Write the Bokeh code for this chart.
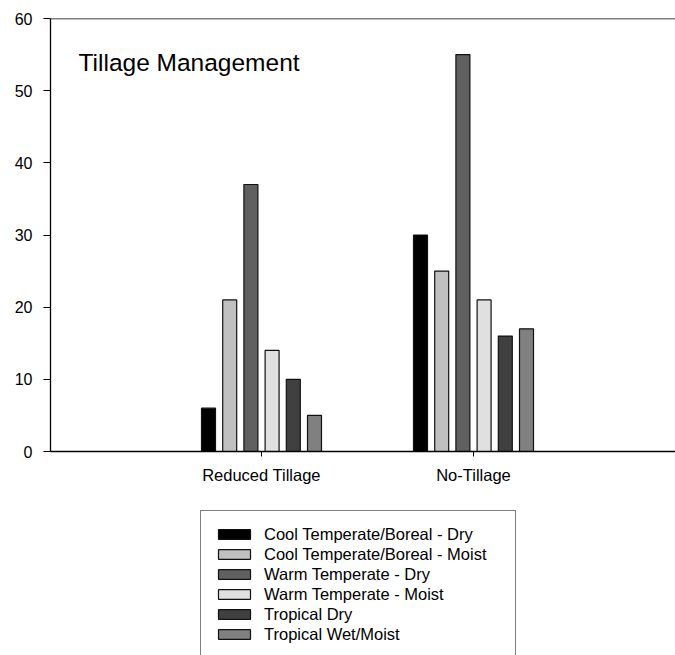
import numpy as np
from bokeh.plotting import figure
from bokeh.layouts import column
from bokeh.models import (ColumnDataSource, Range1d, FixedTicker, Legend, LegendItem,
                          Label, Span)
from bokeh.embed import file_html
from bokeh.resources import INLINE

# ---- data ----
categories = ["Reduced Tillage", "No-Tillage"]
series_names = [
    "Cool Temperate/Boreal - Dry",
    "Cool Temperate/Boreal - Moist",
    "Warm Temperate - Dry",
    "Warm Temperate - Moist",
    "Tropical Dry",
    "Tropical Wet/Moist",
]
cool_dry = [6, 30]
cool_moist = [21, 25]
warm_dry = [37, 55]
warm_moist = [14, 21]
tropical_dry = [10, 16]
tropical_wet = [5, 17]
series_values = [cool_dry, cool_moist, warm_dry, warm_moist, tropical_dry, tropical_wet]
colors = ["#000000", "#c0c0c0", "#606060", "#e0e0e0", "#404040", "#808080"]
y_ticks = [0, 10, 20, 30, 40, 50, 60]
title_text = "Tillage Management"

FONT = "Liberation Sans"
W = 675
H1 = 490
H2 = 165

px_per_unit = 212.0
frame_w = W - 50
x_start = 1 - 211 / px_per_unit
x_end = x_start + frame_w / px_per_unit

p = figure(width=W, height=H1, output_backend="svg", toolbar_location=None,
           x_range=Range1d(x_start, x_end), y_range=Range1d(0, 60),
           min_border_left=50, min_border_right=0, min_border_top=18,
           min_border_bottom=H1 - 18 - 433, background_fill_color="white",
           border_fill_color="white", outline_line_color=None)
p.grid.visible = False

# ---- legend panel figure ----
q = figure(width=W, height=H2, output_backend="svg", toolbar_location=None,
           x_range=Range1d(-100, -99), y_range=Range1d(100, 101),
           x_axis_location=None, y_axis_location=None,
           min_border=0, outline_line_color=None,
           background_fill_color="white", border_fill_color="white")
q.grid.visible = False

cat_pos = np.arange(1, len(categories) + 1)
n = len(series_names)
pitch = 0.1
bar_w = 0.066
items = []
for k, (name, vals, col) in enumerate(zip(series_names, series_values, colors)):
    xs = cat_pos + pitch * (k - (n - 1) / 2)
    src = ColumnDataSource(dict(x=xs, top=vals))
    p.vbar(x="x", top="top", width=bar_w, bottom=0, source=src,
           fill_color=col, line_color="#111111", line_width=1.2)
    # same data in the legend figure, outside its visible range (for legend swatches)
    r = q.vbar(x="x", top="top", width=bar_w, bottom=0, source=src,
               fill_color=col, line_color="#111111", line_width=1.2)
    items.append(LegendItem(label=name, renderers=[r]))

# axes
p.yaxis.ticker = FixedTicker(ticks=y_ticks)
p.yaxis.major_tick_out = 7
p.yaxis.major_tick_in = 0
p.yaxis.minor_tick_line_color = None
p.yaxis.major_label_standoff = 11
p.yaxis.major_label_text_font = FONT
p.yaxis.major_label_text_font_size = "16px"
p.yaxis.major_label_text_color = "black"
p.yaxis.axis_line_color = "black"
p.yaxis.axis_line_width = 1.3

p.xaxis.ticker = FixedTicker(ticks=list(cat_pos))
p.xaxis.major_label_overrides = {int(c): lab for c, lab in zip(cat_pos, categories)}
p.xaxis.major_tick_out = 5
p.xaxis.major_tick_in = 0
p.xaxis.minor_tick_line_color = None
p.xaxis.major_label_standoff = 9
p.xaxis.major_label_text_font = FONT
p.xaxis.major_label_text_font_size = "16.5px"
p.xaxis.major_label_text_color = "black"
p.xaxis.axis_line_color = "black"
p.xaxis.axis_line_width = 1.3

p.add_layout(Span(location=60, dimension="width", line_color="black", line_width=1.5))

p.add_layout(Label(x=28, y=389, x_units="screen", y_units="screen", text=title_text,
                   text_font=FONT, text_font_size="24.5px", text_baseline="middle",
                   text_color="black"))

legend = Legend(items=items, location=(150, -3), orientation="vertical",
                glyph_width=40, glyph_height=12, label_height=20, label_width=238,
                spacing=0, padding=13, margin=0, label_standoff=10,
                label_text_font=FONT, label_text_font_size="16.5px",
                label_text_color="black", border_line_color="black",
                border_line_width=1, background_fill_color="white",
                background_fill_alpha=1.0)
q.add_layout(legend, "center")

layout = column(p, q, spacing=0)
open("out.html", "w").write(file_html(layout, INLINE))
